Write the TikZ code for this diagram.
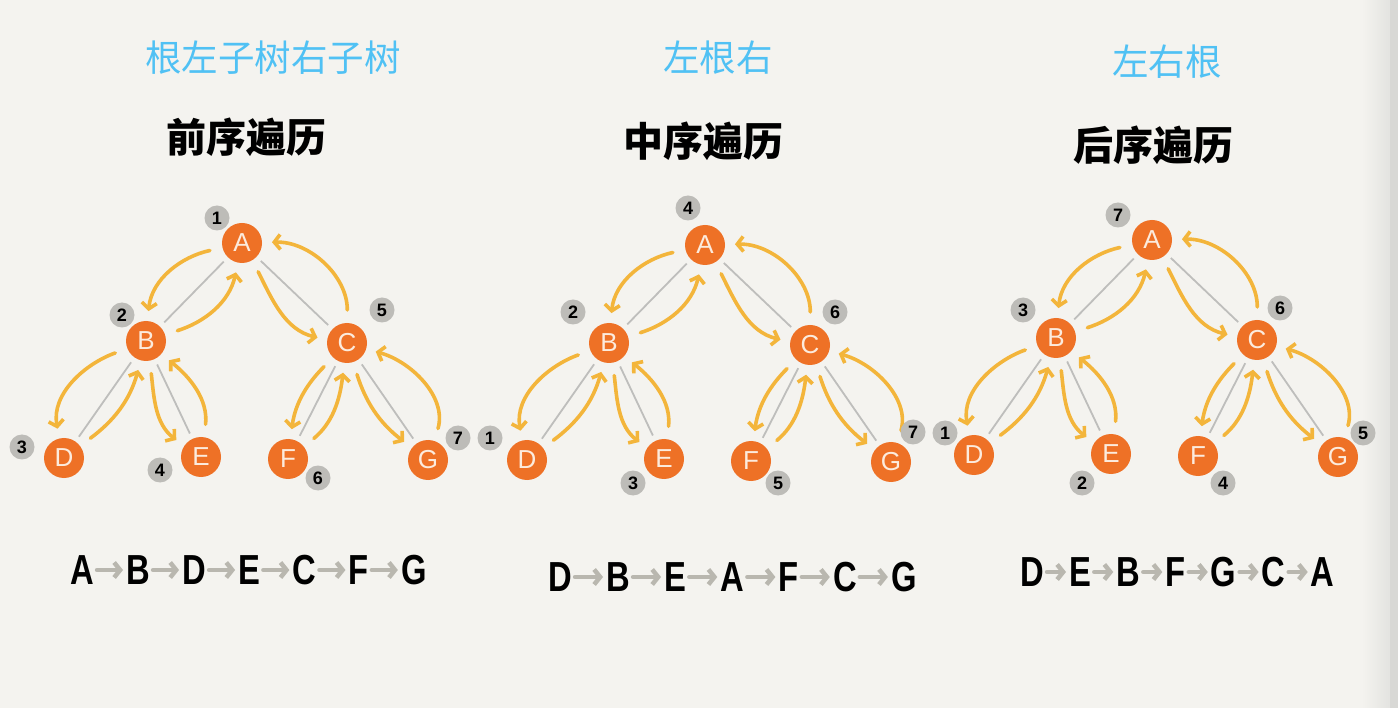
\documentclass[tikz,border=0pt]{standalone}
\usepackage{fontspec}
\setmainfont{Liberation Sans}
\newfontfamily\cjk{Noto Sans CJK SC}
\newfontfamily\narrow{Liberation Sans}[FakeStretch=0.78]
\usetikzlibrary{arrows.meta,positioning}
\definecolor{paper}{HTML}{F4F3EF}
\definecolor{edgeshade}{HTML}{E3E3E0}
\definecolor{edgedark}{HTML}{D8D8D5}
\definecolor{nodeorange}{HTML}{EE7126}
\definecolor{nodetext}{HTML}{FCEBDD}
\definecolor{touryellow}{HTML}{F3B53B}
\definecolor{linkgrey}{HTML}{BEBEBC}
\definecolor{badgegrey}{HTML}{BDBCB8}
\definecolor{skyblue}{HTML}{50C1F4}
\definecolor{seqgrey}{HTML}{B9B7AF}

\begin{document}
\begin{tikzpicture}[x=1pt,y=1pt,
  vertex/.style={circle,fill=nodeorange,minimum size=40pt,inner sep=0pt,outer sep=3pt,text=nodetext,font=\fontsize{26}{26}\selectfont},
  badge/.style={circle,fill=badgegrey,minimum size=25pt,inner sep=0pt,font=\bfseries\fontsize{18}{18}\selectfont},
  link/.style={draw=linkgrey,line width=1.8pt,shorten <=3pt,shorten >=3pt},
  tour/.style={draw=touryellow,line width=3.6pt,line cap=round,line join=round,-{Straight Barb[length=6pt,width=15pt]},shorten <=10pt,shorten >=7pt},
  title/.style={font=\cjk\fontsize{36.5}{36.5}\selectfont,text=skyblue},
  heading/.style={font=\cjk\bfseries\fontsize{40}{40}\selectfont},
  letter/.style={font=\narrow\bfseries\fontsize{42}{42}\selectfont,inner sep=0pt},
  seq/.style={draw=seqgrey,line width=4.5pt,line cap=round,-{Straight Barb[length=6pt,width=15pt]},shorten <=3pt,shorten >=3pt}]
% paper and the page edge on the right
\fill[paper] (0,0) rectangle (1398,-708);
\shade[left color=paper,right color=edgeshade] (1362,0) rectangle (1390,-708);
\fill[edgedark] (1390,0) rectangle (1398,-708);

% headings
\node[title] (T1) at (273,-58) {根左子树右子树};
\node[title] (T2) at (718,-58) {左根右};
\node[title] (T3) at (1167,-62) {左右根};
\node[heading] (H1) at (246,-137) {前序遍历};
\node[heading] (H2) at (703,-141) {中序遍历};
\node[heading] (H3) at (1153,-145) {后序遍历};

% three copies of the same tree
\foreach \t/\x/\y in {1/242/243,2/705/245,3/1152/240} {
  \node[vertex] (A\t) at (\x,-\y) {A};
  \node[vertex] (B\t) at (\x-96,-\y-98) {B};
  \node[vertex] (C\t) at (\x+105,-\y-100) {C};
  \node[vertex] (D\t) at (\x-178,-\y-215) {D};
  \node[vertex] (E\t) at (\x-41,-\y-214) {E};
  \node[vertex] (F\t) at (\x+46,-\y-216) {F};
  \node[vertex] (G\t) at (\x+186,-\y-217) {G};
}
% going down on one side of each edge, coming back up on the other
\foreach \t in {1,2,3}
  \foreach \p/\c/\a/\b/\e/\f in {A/B/-32/220/-27/213, A/C/-16/214/-47/225,
      B/D/-33/228/-18/200, B/E/-15/211/-34/204, C/F/-17/200/-25/199, C/G/-17/198/-53/218} {
    \draw[link] (\p\t) -- (\c\t);
    \draw[tour] (\p\t) to[out=\a,in=\b,relative] (\c\t);
    \draw[tour] (\c\t) to[out=\e,in=\f,relative] (\p\t);
  }

% visiting order
\foreach \v/\d/\x/\y in {A1/1/217/218,B1/2/122/315,C1/5/382/310,D1/3/22/447,E1/4/160/470,F1/6/318/478,G1/7/458/438,
    A2/4/688/208,B2/2/573/312,C2/6/835/312,D2/1/490/438,E2/3/633/483,F2/5/778/483,G2/7/913/432,
    A3/7/1118/215,B3/3/1023/310,C3/6/1280/308,D3/1/945/433,E3/2/1082/483,F3/4/1223/483,G3/5/1363/433}
  \node[badge] (n\v) at (\x,-\y) {\d};

% traversal sequences
\begin{scope}[node distance=32pt]
\node[letter] (P1) at (82,-570) {A};
\node[letter,right=of P1] (P2) {B};
\node[letter,right=of P2] (P3) {D};
\node[letter,right=of P3] (P4) {E};
\node[letter,right=of P4] (P5) {C};
\node[letter,right=of P5] (P6) {F};
\node[letter,right=of P6] (P7) {G};
\end{scope}
\begin{scope}[node distance=34pt]
\node[letter] (Q1) at (560,-577) {D};
\node[letter,right=of Q1] (Q2) {B};
\node[letter,right=of Q2] (Q3) {E};
\node[letter,right=of Q3] (Q4) {A};
\node[letter,right=of Q4] (Q5) {F};
\node[letter,right=of Q5] (Q6) {C};
\node[letter,right=of Q6] (Q7) {G};
\end{scope}
\begin{scope}[node distance=25pt]
\node[letter] (R1) at (1032,-572) {D};
\node[letter,right=of R1] (R2) {E};
\node[letter,right=of R2] (R3) {B};
\node[letter,right=of R3] (R4) {F};
\node[letter,right=of R4] (R5) {G};
\node[letter,right=of R5] (R6) {C};
\node[letter,right=of R6] (R7) {A};
\end{scope}
\foreach \i [count=\j from 2] in {1,...,6} {
  \draw[seq] (P\i) -- (P\j);
  \draw[seq] (Q\i) -- (Q\j);
  \draw[seq] (R\i) -- (R\j);
}
\end{tikzpicture}
\end{document}
